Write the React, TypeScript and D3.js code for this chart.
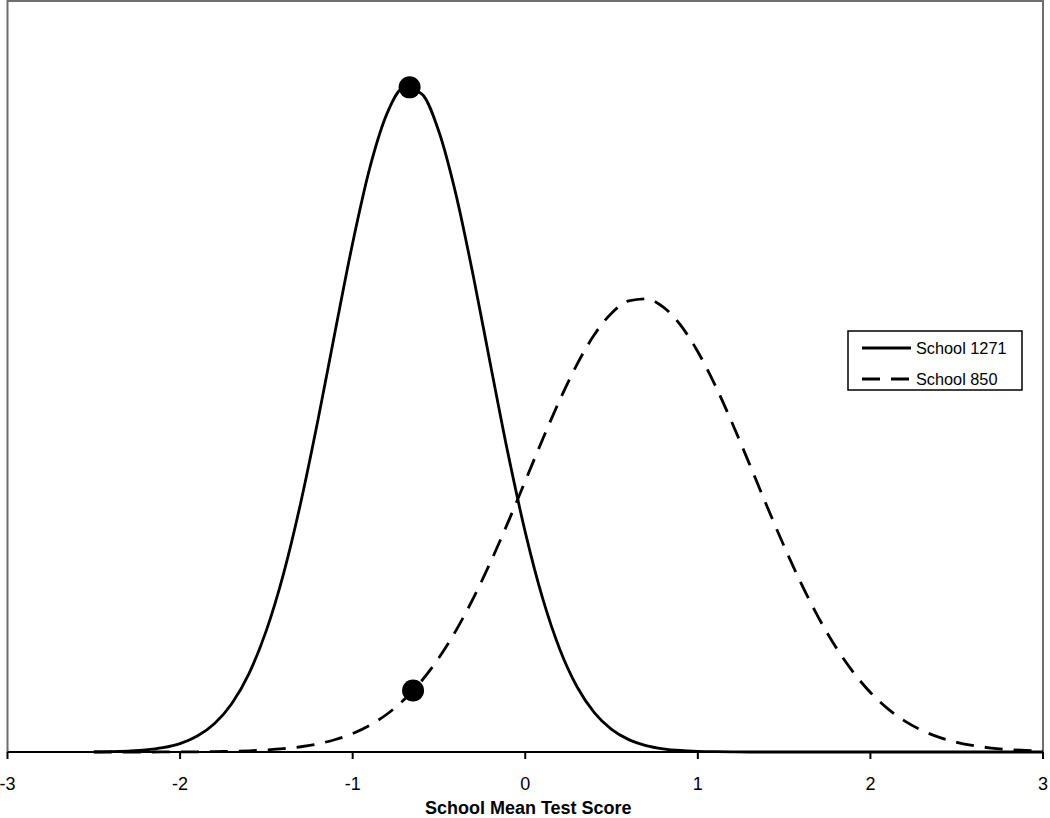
import React from "react";
import * as d3 from "d3";

const scores = [
  -2.5, -2.4, -2.3, -2.2, -2.1, -2.0, -1.9, -1.8, -1.7, -1.6, -1.5, -1.4, -1.3, -1.2,
  -1.1, -1.0, -0.9, -0.8, -0.7, -0.6, -0.5, -0.4, -0.3, -0.2, -0.1, 0.0, 0.1, 0.2,
  0.3, 0.4, 0.5, 0.6, 0.7, 0.8, 0.9, 1.0, 1.1, 1.2, 1.3, 1.4, 1.5, 1.6, 1.7, 1.8,
  1.9, 2.0, 2.1, 2.2, 2.3, 2.4, 2.5, 2.6, 2.7, 2.8, 2.9, 3.0,
];

const school1271 = [
  0.0002, 0.0005, 0.0013, 0.0027, 0.0057, 0.0112, 0.0212, 0.0379, 0.0646, 0.1048,
  0.1619, 0.2379, 0.3329, 0.4433, 0.5619, 0.6778, 0.7784, 0.8507, 0.885, 0.8764,
  0.8259, 0.7409, 0.6326, 0.5141, 0.3976, 0.2928, 0.2052, 0.1369, 0.0869, 0.0525,
  0.0302, 0.0165, 0.0086, 0.0043, 0.002, 0.0009, 0.0004, 0.0002, 0, 0,
  0, 0, 0, 0, 0, 0, 0, 0, 0, 0,
  0, 0, 0, 0, 0, 0,
];

const school850 = [
  0.0, 0.0, 0.0, 0.0, 0.0001, 0.0002, 0.0003, 0.0005, 0.001, 0.0016,
  0.0027, 0.0044, 0.007, 0.0109, 0.0166, 0.0246, 0.0357, 0.0506, 0.0701, 0.0949,
  0.1255, 0.1623, 0.2051, 0.2534, 0.3058, 0.3608, 0.416, 0.4687, 0.5162, 0.5555,
  0.5843, 0.6006, 0.6034, 0.5924, 0.5684, 0.533, 0.4885, 0.4375, 0.383, 0.3276,
  0.2739, 0.2238, 0.1787, 0.1395, 0.1064, 0.0793, 0.0577, 0.0411, 0.0286, 0.0195,
  0.0129, 0.0084, 0.0053, 0.0033, 0.002, 0.0012,
];

// highlighted school mean (dots)
const markerX = [-0.67, -0.65];
const markerY = [0.885, 0.082];

const tickValues = [-3, -2, -1, 0, 1, 2, 3];
const seriesNames = ["School 1271", "School 850"];

const W = 1050;
const H = 818;
const left = 7.5;
const right = 1043;
const top = 1;
const bottom = 752;

const App = () => {
  const x = d3.scaleLinear().domain([-3, 3]).range([left, right]);
  const y = d3.scaleLinear().domain([0, 1]).range([bottom, top]);

  const line = d3
    .line<number>()
    .x((_, i) => x(scores[i]))
    .y((d) => y(d))
    .curve(d3.curveMonotoneX);

  const dash = "18,11";
  const font = "Arial, 'Liberation Sans', sans-serif";

  return (
    <svg
      width={W}
      height={H}
      style={{ position: "absolute", left: 0, top: 0, background: "#fff" }}
    >
      {/* plot frame */}
      <rect
        x={left}
        y={top}
        width={right - left}
        height={bottom - top}
        fill="none"
        stroke="#6e6e6e"
        strokeWidth={2}
      />

      {/* curves */}
      <path d={line(school1271) ?? ""} fill="none" stroke="#000" strokeWidth={2.8} />
      <path
        d={line(school850) ?? ""}
        fill="none"
        stroke="#000"
        strokeWidth={2.8}
        strokeDasharray={dash}
      />

      {/* x axis */}
      <line x1={left} x2={right} y1={bottom} y2={bottom} stroke="#000" strokeWidth={2} />
      {tickValues.map((t) => (
        <g key={t}>
          <line x1={x(t)} x2={x(t)} y1={bottom} y2={bottom + 7} stroke="#000" strokeWidth={2} />
          <text
            x={x(t)}
            y={789.5}
            textAnchor="middle"
            fontFamily={font}
            fontSize="18px"
            fill="#000"
          >
            {t}
          </text>
        </g>
      ))}
      <text
        x={x(0) + 3}
        y={814}
        textAnchor="middle"
        fontFamily={font}
        fontWeight="bold"
        fontSize="18px"
        fill="#000"
      >
        School Mean Test Score
      </text>

      {/* dots */}
      {markerX.map((mx, i) => (
        <circle key={i} cx={x(mx)} cy={y(markerY[i])} r={11} fill="#000" />
      ))}

      {/* legend */}
      <rect x={848} y={331} width={174} height={59} fill="#fff" stroke="#000" strokeWidth={1.5} />
      {seriesNames.map((name, i) => (
        <g key={name}>
          <line
            x1={862}
            x2={911}
            y1={348 + i * 31}
            y2={348 + i * 31}
            stroke="#000"
            strokeWidth={2.8}
            strokeDasharray={i === 1 ? dash : undefined}
          />
          <text
            x={916}
            y={348 + i * 31 + 6}
            fontFamily={font}
            fontSize="16.3px"
            fill="#000"
          >
            {name}
          </text>
        </g>
      ))}
    </svg>
  );
};

export default App;
